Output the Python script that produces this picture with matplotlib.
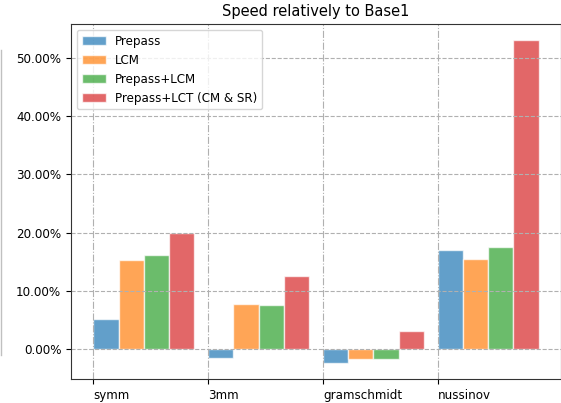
import numpy as np
import matplotlib
matplotlib.use('Agg')
import matplotlib.pyplot as plt
from matplotlib.lines import Line2D
from matplotlib.ticker import PercentFormatter

# benchmark names and speedups (%) relative to Base1
benchmarks = ['symm', '3mm', 'gramschmidt', 'nussinov']
series_names = ['Prepass', 'LCM', 'Prepass+LCM', 'Prepass+LCT (CM & SR)']
prepass = [5.2, -1.4, -2.3, 17.1]
lcm = [15.4, 7.8, -1.6, 15.5]
prepass_lcm = [16.1, 7.6, -1.6, 17.5]
prepass_lct = [19.9, 12.6, 3.2, 53.0]

fig = plt.figure(figsize=(5.61, 4.03), dpi=100)
ax = fig.add_axes([71 / 561, (403 - 379) / 403, (561 - 71) / 561, (379 - 24) / 403])

x = np.arange(len(benchmarks))
width = 0.22
colors = ['tab:blue', 'tab:orange', 'tab:green', 'tab:red']
for i, (name, vals) in enumerate(zip(series_names, [prepass, lcm, prepass_lcm, prepass_lct])):
    ax.bar(x + i * width, vals, width, align='edge', label=name,
           color=colors[i], alpha=0.7, edgecolor='white', linewidth=1)

ax.set_xticks(x)
ax.set_xticklabels(benchmarks, ha='left')
ax.tick_params(labelsize=8.6)
ax.yaxis.set_major_formatter(PercentFormatter(decimals=2))
ax.grid(axis='y', linestyle='--', color='#b0b0b0')
ax.grid(axis='x', linestyle='-.', color='#b0b0b0')
for s in ax.spines.values():
    s.set_color('#333333')
ax.set_title('Speed relatively to Base1', fontsize=10.5)
ax.legend(loc='upper left', fontsize=8.6)

# thin grey line at the left edge of the picture
fig.add_artist(Line2D([0.001, 0.001], [1 - 50 / 403, 1 - 355 / 403], color='#c0c0c0', linewidth=1))

fig.savefig('out.png', dpi=100)
